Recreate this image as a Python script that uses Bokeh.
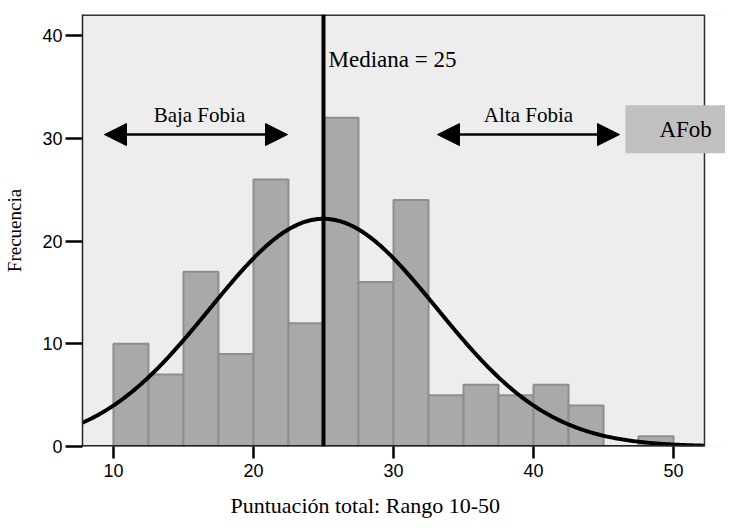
import numpy as np
from bokeh.plotting import figure
from bokeh.models import Range1d, Span, Label, Arrow, NormalHead, FixedTicker, Title
from bokeh.embed import file_html
from bokeh.resources import INLINE

# ---- data ----
bin_left = [10, 12.5, 15, 17.5, 20, 22.5, 25, 27.5, 30, 32.5, 35, 37.5, 40, 42.5, 45, 47.5]
bin_right = [12.5, 15, 17.5, 20, 22.5, 25, 27.5, 30, 32.5, 35, 37.5, 40, 42.5, 45, 47.5, 50]
counts = [10, 7, 17, 9, 26, 12, 32, 16, 24, 5, 6, 5, 6, 4, 0, 1]
x_ticks = [10, 20, 30, 40, 50]
y_ticks = [0, 10, 20, 30, 40]
median_value = 25
fit_mean = 25.0
fit_sd = 8.1
bin_width = 2.5

# visible plot box (data units); frame is extended to the right to host the "AFob" tag
x_lo, x_box = 7.79, 52.21
x_hi = 53.71
y_lo, y_hi = 0, 42.05

SERIF = "Liberation Serif"
SANS = "Liberation Sans"
BORDER = "#333333"

p = figure(width=725, height=520, output_backend="svg", toolbar_location=None,
           x_range=Range1d(x_lo, x_hi), y_range=Range1d(y_lo, y_hi),
           min_border_left=82, min_border_right=0, min_border_top=14, min_border_bottom=74)

p.background_fill_color = "#ededed"
p.border_fill_color = "white"
p.outline_line_color = None
p.xgrid.visible = False
p.ygrid.visible = False

# white area right of the plot box
p.quad(left=[x_box], right=[x_hi], bottom=[y_lo], top=[y_hi], fill_color="white", line_color=None)

# histogram
p.quad(left=bin_left, right=bin_right, top=counts, bottom=0,
       fill_color="#a9a9a9", line_color="#8e8e8e", line_width=2)

# normal curve
n_total = sum(counts)
xs = np.linspace(x_lo, x_box, 400)
ys = n_total * bin_width / (fit_sd * np.sqrt(2 * np.pi)) * np.exp(-0.5 * ((xs - fit_mean) / fit_sd) ** 2)
p.line(xs, ys, line_color="black", line_width=4)

# plot box border (top, right, bottom)
p.line([x_lo, x_box], [y_hi, y_hi], line_color=BORDER, line_width=3)
p.line([x_box, x_box], [y_lo, y_hi], line_color=BORDER, line_width=1.5)
p.line([x_lo, x_box], [y_lo, y_lo], line_color="#222222", line_width=3)

# median line
p.add_layout(Span(location=median_value, dimension="height", line_color="black", line_width=4))

# arrows
arrow_y = 30.36
for xa, xb in [(9.36, 22.43), (33.14, 46.14)]:
    p.add_layout(Arrow(x_start=xa, x_end=xb, y_start=arrow_y, y_end=arrow_y,
                       line_color="black", line_width=2.5,
                       start=NormalHead(size=22, fill_color="black", line_color="black"),
                       end=NormalHead(size=22, fill_color="black", line_color="black")))

p.add_layout(Label(x=16.14, y=32.22, text="Baja Fobia", text_align="center",
                   text_baseline="alphabetic", text_font=SERIF, text_font_size="21px",
                   text_color="black"))
p.add_layout(Label(x=39.64, y=32.22, text="Alta Fobia", text_align="center",
                   text_baseline="alphabetic", text_font=SERIF, text_font_size="21px",
                   text_color="black"))
p.add_layout(Label(x=25.36, y=37.67, text="Mediana = 25", text_align="left",
                   text_baseline="alphabetic", text_font=SERIF, text_font_size="23px",
                   text_color="black"))
p.add_layout(Label(x=50.86, y=30.87, text="AFob", text_align="center",
                   text_baseline="alphabetic", text_font=SERIF, text_font_size="23px",
                   text_color="black", background_fill_color="#c0c0c0",
                   padding=dict(left=34, right=34, top=12, bottom=11)))

# axes
p.xaxis.ticker = FixedTicker(ticks=x_ticks)
p.yaxis.ticker = FixedTicker(ticks=y_ticks)
for ax in (p.xaxis[0], p.yaxis[0]):
    ax.axis_line_color = "#222222"
    ax.axis_line_width = 1.5
    ax.major_tick_line_color = "black"
    ax.major_tick_line_width = 2.5
    ax.major_tick_in = 0
    ax.minor_tick_line_color = None
    ax.major_label_text_font = SANS
    ax.major_label_text_font_size = "18px"
    ax.major_label_text_color = "black"
    ax.axis_label_text_font = SERIF
    ax.axis_label_text_font_style = "normal"
    ax.axis_label_text_color = "black"

p.xaxis.axis_line_color = None
p.xaxis.major_tick_out = 12
p.xaxis.major_label_standoff = 5
# invisible spacer label to push the title below further down
p.xaxis.axis_label = " "
p.xaxis.axis_label_text_font_size = "2px"
p.xaxis.axis_label_standoff = 6

p.yaxis.major_tick_out = 17
p.yaxis.major_label_standoff = 3
p.yaxis.axis_label = "Frecuencia"
p.yaxis.axis_label_text_font_size = "19px"
p.yaxis.axis_label_standoff = 14

# x-axis title, placed left of centre as in the original
p.add_layout(Title(text="Puntuación total: Rango 10-50", align="left", offset=148,
                   text_font=SERIF, text_font_size="22px", text_font_style="normal",
                   text_color="black", standoff=0), "below")

open("out.html", "w").write(file_html(p, INLINE))
